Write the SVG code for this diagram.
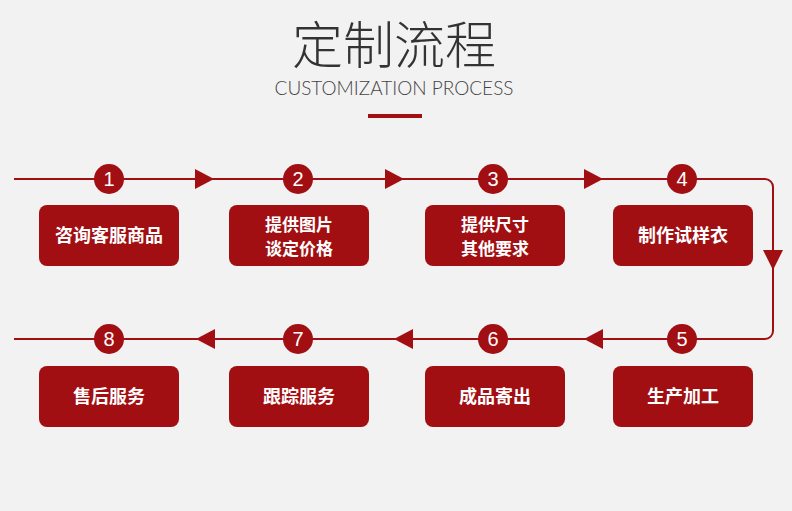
<svg xmlns="http://www.w3.org/2000/svg" width="792" height="511" viewBox="0 0 792 511">
<style>
.bx{fill:#a10f12}
.c{fill:#a10f12}
.n{fill:#fff;font-family:"Liberation Sans",sans-serif;font-size:20px;text-anchor:middle}
.t{fill:#fff;font-family:"Noto Sans CJK SC",sans-serif;font-size:18px;font-weight:bold;text-anchor:middle}
.t2{font-size:17px}
.ln{stroke:#a10f12;stroke-width:2;fill:none}
.ar{fill:#a10f12}
</style>
<rect width="792" height="511" fill="#f2f2f2"/>
<text x="394" y="64" font-family="Noto Sans CJK SC,sans-serif" font-size="51" font-weight="300" fill="#333" text-anchor="middle">定制流程</text>
<text x="394" y="95" font-family="Lato,sans-serif" font-size="19" font-weight="300" fill="#444" text-anchor="middle">CUSTOMIZATION PROCESS</text>
<rect x="368" y="114" width="54" height="4" fill="#a10f12"/>
<g id="connectors">
<path class="ln" d="M14 179 H765 a8 8 0 0 1 8 8 V331 a8 8 0 0 1 -8 8 H14"/>
<polygon class="ar" points="195,169 214,179 195,189"/>
<polygon class="ar" points="385,169 404,179 385,189"/>
<polygon class="ar" points="584,169 603,179 584,189"/>
<polygon class="ar" points="763,250 783,250 773,270"/>
<polygon class="ar" points="603,329 584,339 603,349"/>
<polygon class="ar" points="413,329 394,339 413,349"/>
<polygon class="ar" points="215,329 196,339 215,349"/>
</g>
<g id="n1"><circle class="c" cx="109" cy="179" r="15"/><text class="n" x="109" y="186">1</text><rect class="bx" x="39" y="205" width="140" height="61" rx="8"/><text class="t" x="109" y="242">咨询客服商品</text></g>
<g id="n2"><circle class="c" cx="298" cy="179" r="15"/><text class="n" x="298" y="186">2</text><rect class="bx" x="229" y="205" width="140" height="61" rx="8"/><text class="t t2" x="299" y="231">提供图片</text><text class="t t2" x="299" y="255">谈定价格</text></g>
<g id="n3"><circle class="c" cx="493" cy="179" r="15"/><text class="n" x="493" y="186">3</text><rect class="bx" x="425" y="205" width="140" height="61" rx="8"/><text class="t t2" x="495" y="231">提供尺寸</text><text class="t t2" x="495" y="255">其他要求</text></g>
<g id="n4"><circle class="c" cx="682" cy="179" r="15"/><text class="n" x="682" y="186">4</text><rect class="bx" x="613" y="205" width="140" height="61" rx="8"/><text class="t" x="683" y="242">制作试样衣</text></g>
<g id="n5"><circle class="c" cx="682" cy="339" r="15"/><text class="n" x="682" y="346">5</text><rect class="bx" x="613" y="366" width="140" height="61" rx="8"/><text class="t" x="683" y="403">生产加工</text></g>
<g id="n6"><circle class="c" cx="493" cy="339" r="15"/><text class="n" x="493" y="346">6</text><rect class="bx" x="425" y="366" width="140" height="61" rx="8"/><text class="t" x="495" y="403">成品寄出</text></g>
<g id="n7"><circle class="c" cx="298" cy="339" r="15"/><text class="n" x="298" y="346">7</text><rect class="bx" x="229" y="366" width="140" height="61" rx="8"/><text class="t" x="299" y="403">跟踪服务</text></g>
<g id="n8"><circle class="c" cx="109" cy="339" r="15"/><text class="n" x="109" y="346">8</text><rect class="bx" x="39" y="366" width="140" height="61" rx="8"/><text class="t" x="109" y="403">售后服务</text></g>
</svg>
